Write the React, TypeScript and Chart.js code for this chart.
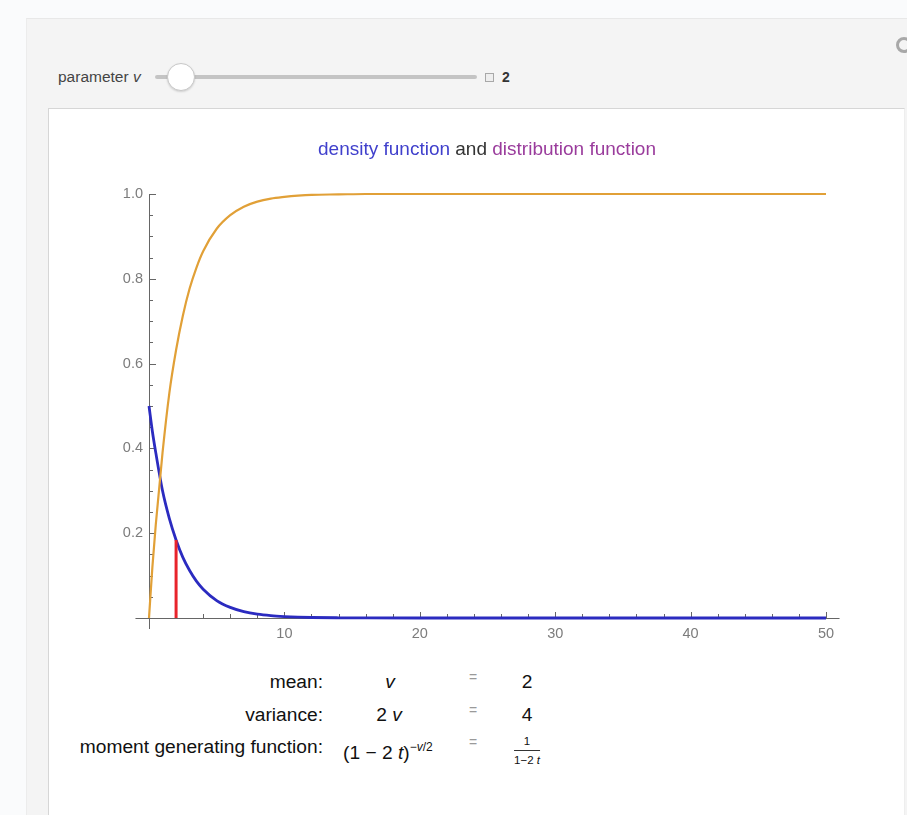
import React, { useEffect, useRef } from "react";
import { Chart, registerables } from "chart.js";

Chart.register(...registerables);

const xValues = [0, 0.25, 0.5, 1, 1.5, 2, 2.5, 3, 3.5, 4, 5, 6, 7, 8, 9, 10, 11, 12, 14, 16, 20, 30, 40, 50];
// density function (blue)
const densityValues = [0.5, 0.44, 0.39, 0.30, 0.235, 0.184, 0.143, 0.112, 0.087, 0.068, 0.041, 0.025, 0.015, 0.009, 0.0055, 0.0034, 0.002, 0.0012, 0.0005, 0.0002, 0, 0, 0, 0];
// distribution function (orange)
const cdfValues = [0, 0.12, 0.22, 0.39, 0.53, 0.632, 0.713, 0.777, 0.826, 0.865, 0.918, 0.95, 0.97, 0.982, 0.989, 0.993, 0.996, 0.998, 0.999, 1, 1, 1, 1, 1];
// red mark at the mean
const meanX = [2, 2];
const meanY = [0, 0.184];

const xTickLabels = [10, 20, 30, 40, 50];
const yTickLabels = [0.2, 0.4, 0.6, 0.8, 1.0];

const FONT = "'Liberation Sans', Arial, Helvetica, sans-serif";

const axesPlugin = {
  id: "mmaAxes",
  beforeDatasetsDraw(chart: any) {
    const { ctx, scales } = chart;
    const xs = scales.x;
    const ys = scales.y;
    const x0 = xs.getPixelForValue(0);
    const y0 = ys.getPixelForValue(0);
    ctx.save();
    ctx.strokeStyle = "#666";
    ctx.lineWidth = 1;
    // x axis
    ctx.beginPath();
    ctx.moveTo(xs.getPixelForValue(-1), y0 + 0.5);
    ctx.lineTo(xs.getPixelForValue(51), y0 + 0.5);
    ctx.stroke();
    // y axis
    ctx.beginPath();
    ctx.moveTo(x0 + 0.5, ys.getPixelForValue(1));
    ctx.lineTo(x0 + 0.5, y0 + 11);
    ctx.stroke();
    // x ticks (upward)
    for (let v = 2; v <= 50; v += 2) {
      const major = xTickLabels.includes(v);
      const px = Math.round(xs.getPixelForValue(v)) + 0.5;
      ctx.beginPath();
      ctx.moveTo(px, y0);
      ctx.lineTo(px, y0 - (major ? 6 : 4));
      ctx.stroke();
    }
    // y ticks (rightward)
    for (let i = 1; i <= 20; i++) {
      const v = i * 0.05;
      const major = i % 4 === 0;
      const py = Math.round(ys.getPixelForValue(v)) + 0.5;
      ctx.beginPath();
      ctx.moveTo(x0, py);
      ctx.lineTo(x0 + (major ? 7 : 4), py);
      ctx.stroke();
    }
    ctx.restore();
  },
};

function ChartView() {
  const ref = useRef<HTMLCanvasElement | null>(null);
  useEffect(() => {
    if (!ref.current) return;
    const toPts = (xa: number[], ya: number[]) => xa.map((x, i) => ({ x, y: ya[i] }));
    const chart = new Chart(ref.current, {
      type: "line",
      data: {
        datasets: [
          {
            label: "distribution function",
            data: toPts(xValues, cdfValues),
            borderColor: "#e1a037",
            borderWidth: 2.2,
            pointRadius: 0,
            cubicInterpolationMode: "monotone",
            clip: false,
          } as any,
          {
            label: "mean",
            data: toPts(meanX, meanY),
            borderColor: "#e8232b",
            borderWidth: 3,
            pointRadius: 0,
            clip: false,
          } as any,
          {
            label: "density function",
            data: toPts(xValues, densityValues),
            borderColor: "#2b2bc0",
            borderWidth: 2.8,
            pointRadius: 0,
            cubicInterpolationMode: "monotone",
            clip: false,
          } as any,
        ],
      },
      options: {
        animation: false,
        responsive: false,
        maintainAspectRatio: false,
        layout: { padding: { left: 0, right: 81, top: 85, bottom: 6 } },
        plugins: { legend: { display: false }, tooltip: { enabled: false }, title: { display: false } },
        scales: {
          x: {
            type: "linear",
            min: 0,
            max: 50,
            grid: { display: false, drawTicks: false },
            border: { display: false },
            afterFit: (s: any) => { s.height = 25; },
            afterBuildTicks: (s: any) => { s.ticks = xTickLabels.map((v) => ({ value: v })); },
            ticks: {
              autoSkip: false,
              maxRotation: 0,
              padding: 7,
              color: "#7c7c7c",
              font: { family: FONT, size: 14.5 },
              callback: (v: any) => String(v),
            },
          },
          y: {
            type: "linear",
            min: 0,
            max: 1,
            grid: { display: false, drawTicks: false },
            border: { display: false },
            afterFit: (s: any) => { s.width = 100; },
            afterBuildTicks: (s: any) => { s.ticks = yTickLabels.map((v) => ({ value: v })); },
            ticks: {
              autoSkip: false,
              padding: 6,
              color: "#7c7c7c",
              font: { family: FONT, size: 14.5 },
              callback: (v: any) => Number(v).toFixed(1),
            },
          },
        },
      } as any,
      plugins: [axesPlugin],
    });
    return () => chart.destroy();
  }, []);
  return (
    <canvas
      ref={ref}
      width={858}
      height={540}
      style={{ position: "absolute", left: 49, top: 109, width: 858, height: 540 }}
    />
  );
}

const abs = (s: React.CSSProperties): React.CSSProperties => ({ position: "absolute", whiteSpace: "nowrap", ...s });

export default function App() {
  const tableFont: React.CSSProperties = { fontFamily: FONT, fontSize: 19.2, color: "#111", lineHeight: "22px" };
  const rowY = [671, 704, 736];
  return (
    <div style={{ position: "fixed", left: 0, top: 0, width: 907, height: 815, background: "#fafbfc", overflow: "hidden", fontFamily: FONT }}>
      {/* gray control panel */}
      <div style={abs({ left: 26, top: 18, width: 900, height: 900, background: "#f4f4f4", borderTop: "1px solid #e8e8e8", borderLeft: "1px solid #ececec" })} />
      {/* slider row */}
      <div style={abs({ left: 58, top: 69, fontSize: 15.5, color: "#444", lineHeight: "16px" })}>
        parameter <i>v</i>
      </div>
      <div style={abs({ left: 155, top: 75, width: 322, height: 4, background: "#c4c4c4", borderRadius: 2 })} />
      <div style={abs({ left: 167, top: 63, width: 26, height: 26, borderRadius: "50%", background: "#fff", border: "1px solid #c8c8c8", boxShadow: "0 1px 2px rgba(0,0,0,0.15)" })} />
      <div style={abs({ left: 485, top: 73, width: 7, height: 7, border: "1px solid #a8a8a8", background: "#eee" })} />
      <div style={abs({ left: 502, top: 69, fontSize: 14, color: "#333", lineHeight: "16px", fontWeight: 600 })}>2</div>
      {/* top-right icon */}
      <div style={abs({ left: 896, top: 37, width: 10, height: 10, borderRadius: "50%", border: "3px solid #a8a8a8", background: "#f4f4f4" })} />
      {/* white plot panel */}
      <div style={abs({ left: 48, top: 108, width: 855, height: 720, background: "#ffffff", borderTop: "1px solid #d6d6d6", borderLeft: "1px solid #d6d6d6", borderRight: "1px solid #eeeeee" })} />
      <ChartView />
      {/* title */}
      <div style={abs({ left: 487, top: 139, transform: "translateX(-50%)", fontSize: 19, lineHeight: "20px" })}>
        <span style={{ color: "#4040cc" }}>density function</span>
        <span style={{ color: "#333" }}> and </span>
        <span style={{ color: "#9a3c9c" }}>distribution function</span>
      </div>
      {/* properties table */}
      <div style={abs({ ...tableFont, left: 0, width: 323, textAlign: "right", top: rowY[0] })}>mean:</div>
      <div style={abs({ ...tableFont, left: 0, width: 323, textAlign: "right", top: rowY[1] })}>variance:</div>
      <div style={abs({ ...tableFont, left: 0, width: 323, textAlign: "right", top: rowY[2] })}>moment generating function:</div>

      <div style={abs({ ...tableFont, left: 390, top: rowY[0], transform: "translateX(-50%)" })}><i>v</i></div>
      <div style={abs({ ...tableFont, left: 389, top: rowY[1], transform: "translateX(-50%)" })}>2 <i>v</i></div>
      <div style={abs({ ...tableFont, left: 343, top: rowY[2] })}>
        (1 − 2 <i>t</i>)<sup style={{ fontSize: 12, verticalAlign: 8 }}>−<i>v</i>/2</sup>
      </div>

      {rowY.map((y, i) => (
        <div key={i} style={abs({ fontFamily: FONT, fontSize: 14, color: "#9a9a9a", left: 473, top: y - 4, transform: "translateX(-50%)", lineHeight: "20px" })}>=</div>
      ))}

      <div style={abs({ ...tableFont, left: 527, top: rowY[0], transform: "translateX(-50%)" })}>2</div>
      <div style={abs({ ...tableFont, left: 527, top: rowY[1], transform: "translateX(-50%)" })}>4</div>
      <div style={abs({ left: 527, top: 735, transform: "translateX(-50%)", fontFamily: FONT, fontSize: 11.5, color: "#111", textAlign: "center", lineHeight: "13px" })}>
        <div style={{ paddingBottom: 2 }}>1</div>
        <div style={{ borderTop: "1px solid #333", paddingTop: 3 }}>1−2 <i>t</i></div>
      </div>
    </div>
  );
}
